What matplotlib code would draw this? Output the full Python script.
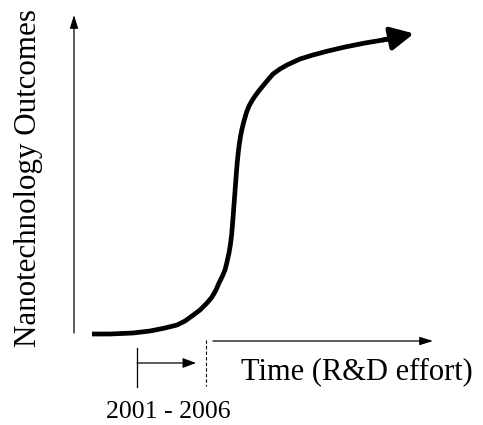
import matplotlib
matplotlib.use("Agg")
import matplotlib.pyplot as plt

# S-curve (R&D effort vs. outcomes) in pixel units
curve_x = [92, 110, 133, 150, 165, 177, 185, 192, 200, 207, 212, 216, 219, 222,
           225, 227, 229, 230.5, 231.7, 232.7, 233.6, 234.5, 235.4, 236.3, 237.2,
           238.2, 239.3, 240.6, 242, 244, 246.3, 249, 253, 258, 262, 267, 273,
           280, 287, 300, 313, 328, 345, 365, 383, 398]
curve_y = [334, 334, 333, 331, 328, 325, 321, 316, 310, 303, 297, 290, 283, 277,
           270, 262, 253, 244, 234, 222, 210, 198, 186, 174, 163,
           153, 144, 136, 129, 121, 113, 106, 99, 92, 87, 81, 74,
           69, 65, 59, 55, 51, 47, 43, 40, 37]
curve_tip = (414, 33.5)

y_axis = [(74, 333), (74, 15)]
x_axis = [(213, 341), (433, 341)]
period_start = [(137, 348), (137, 387)]
period_arrow = [(137, 363), (196, 363)]
period_end = [(206, 340), (206, 386)]

x_label = "Time (R&D effort)"
y_label = "Nanotechnology Outcomes"
period_label = "2001 - 2006"

W, H = 483, 425
fig = plt.figure(figsize=(W / 100, H / 100), dpi=100)
ax = fig.add_axes([0, 0, 1, 1])
ax.set_xlim(0, W)
ax.set_ylim(H, 0)
ax.axis("off")

serif = ["Liberation Serif", "DejaVu Serif"]

# axes arrows
ax.annotate("", xy=y_axis[1], xytext=y_axis[0],
            arrowprops=dict(arrowstyle="-|>,head_length=0.8,head_width=0.25",
                            mutation_scale=10, lw=0.9, color="black",
                            shrinkA=0, shrinkB=0))
ax.annotate("", xy=x_axis[1], xytext=x_axis[0],
            arrowprops=dict(arrowstyle="-|>,head_length=0.8,head_width=0.25",
                            mutation_scale=10, lw=0.9, color="black",
                            shrinkA=0, shrinkB=0))

# S-curve
ax.plot(curve_x, curve_y, color="black", lw=3.4, solid_capstyle="butt",
        solid_joinstyle="round")
ax.annotate("", xy=curve_tip, xytext=(curve_x[-2], curve_y[-2]),
            arrowprops=dict(arrowstyle="-|>,head_length=0.7,head_width=0.35",
                            mutation_scale=20, lw=3.4, color="black",
                            shrinkA=0, shrinkB=0))

# period marker
ax.plot([p[0] for p in period_start], [p[1] for p in period_start],
        color="black", lw=0.9)
ax.annotate("", xy=period_arrow[1], xytext=period_arrow[0],
            arrowprops=dict(arrowstyle="-|>,head_length=0.8,head_width=0.3",
                            mutation_scale=10, lw=0.9, color="black",
                            shrinkA=0, shrinkB=0))
ax.plot([p[0] for p in period_end], [p[1] for p in period_end],
        color="black", lw=0.8, ls=(0, (3, 2)))

# texts
ax.text(357, 372, x_label, family=serif, fontsize=22, ha="center", va="center")
ax.text(29, 178, y_label, family=serif, fontsize=22.3, ha="center", va="center",
        rotation=90)
ax.text(168, 412, period_label, family=serif, fontsize=18.5, ha="center",
        va="center")

fig.savefig("out.png", dpi=100)
